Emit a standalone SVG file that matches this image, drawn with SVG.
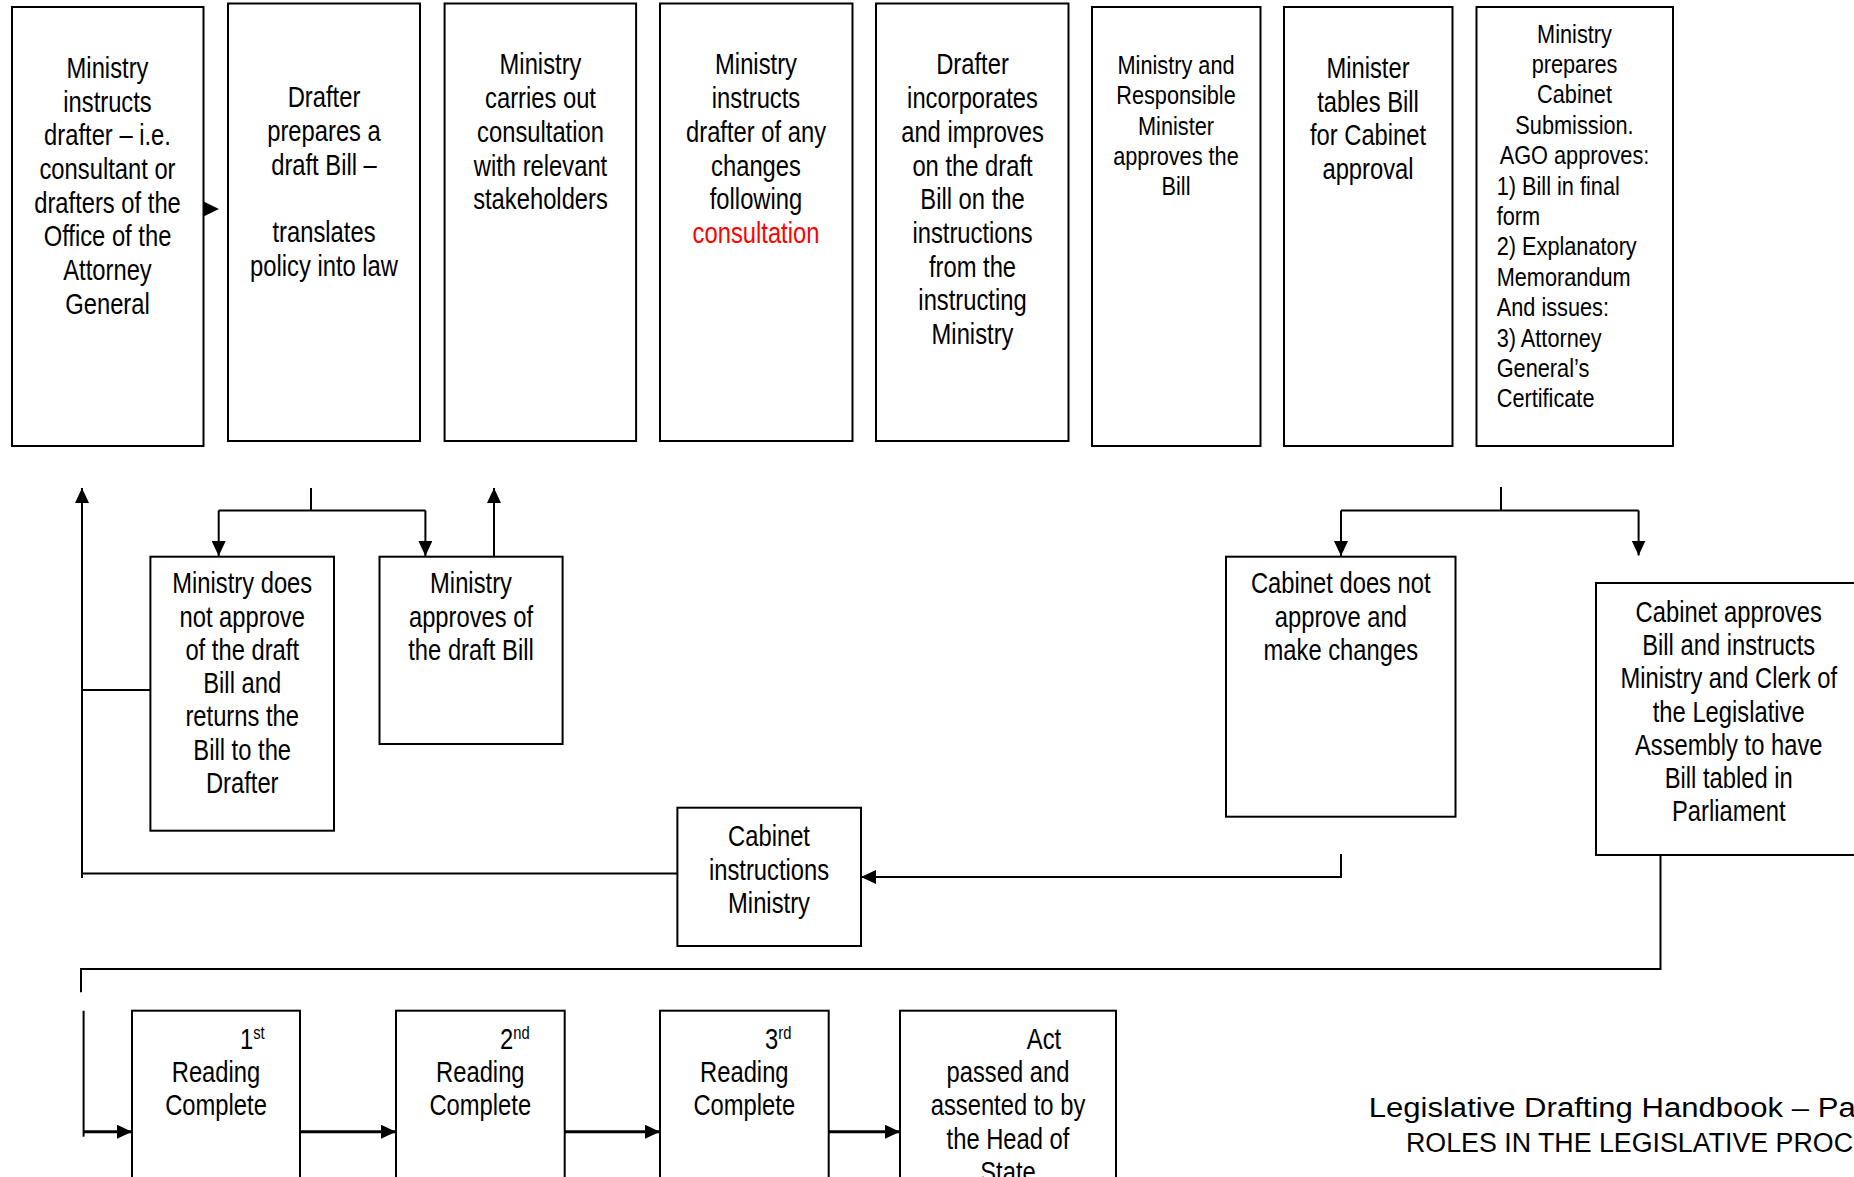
<svg xmlns="http://www.w3.org/2000/svg" width="1854" height="1177" viewBox="0 0 1854 1177">
<style>
  rect.box { fill: #fff; stroke: #000; stroke-width: 2; }
  text { font-family: "Liberation Sans", Arial, sans-serif; fill: #000; }
  .t { font-size: 29px; text-anchor: middle; }
  .s { font-size: 26.5px; text-anchor: middle; }
  .sl { font-size: 26.5px; text-anchor: start; }
  .tl { font-size: 29px; text-anchor: start; }
  .red { fill: #ff0000; }
  .sup { font-size: 18px; }
  .conn path { fill: none; stroke: #000; stroke-width: 2; }
  .foot { font-size: 27px; }
</style>
<defs>
  <marker id="ah" viewBox="0 0 15 14" refX="15" refY="7" markerWidth="15" markerHeight="14" markerUnits="userSpaceOnUse" orient="auto">
    <path d="M0,0 L15,7 L0,14 z" fill="#000"/>
  </marker>
</defs>
<rect width="1854" height="1177" fill="#fff"/>

<g id="connectors" class="conn">
  <polygon points="203.5,201.5 219,209 203.5,216.5" fill="#000"/>
  <path d="M311,488 V510.5"/>
  <path d="M218.7,510.5 H425.4"/>
  <path d="M218.7,510.5 V556" marker-end="url(#ah)"/>
  <path d="M425.4,510.5 V556" marker-end="url(#ah)"/>
  <path d="M494,556 V488" marker-end="url(#ah)"/>
  <path d="M82,878 V488" marker-end="url(#ah)"/>
  <path d="M82,690 H150.4"/>
  <path d="M82,873.5 H677.4"/>
  <path d="M1501,487 V510.5"/>
  <path d="M1341,510.5 H1638.6"/>
  <path d="M1341,510.5 V556" marker-end="url(#ah)"/>
  <path d="M1638.6,510.5 V555.5" marker-end="url(#ah)"/>
  <path d="M1341,854 V877 H861" marker-end="url(#ah)"/>
  <path d="M1660.5,855 V969 H81 V992.3"/>
  <path d="M83.6,1010.7 V1136.7"/>
  <path d="M83.6,1131.7 H132" marker-end="url(#ah)" style="stroke-width:3"/>
  <path d="M300,1131.7 H396" marker-end="url(#ah)" style="stroke-width:3"/>
  <path d="M564.7,1131.7 H660" marker-end="url(#ah)" style="stroke-width:3"/>
  <path d="M828.7,1131.7 H900" marker-end="url(#ah)" style="stroke-width:3"/>
</g>

<g id="n1">
  <rect class="box" x="12" y="7" width="191.5" height="439"/>
  <text class="t" transform="translate(107.5 0) scale(0.82 1)"><tspan x="0" y="78">Ministry</tspan><tspan x="0" y="111.7">instructs</tspan><tspan x="0" y="145.4">drafter – i.e.</tspan><tspan x="0" y="179.1">consultant or</tspan><tspan x="0" y="212.8">drafters of the</tspan><tspan x="0" y="246.5">Office of the</tspan><tspan x="0" y="280.2">Attorney</tspan><tspan x="0" y="313.9">General</tspan></text>
</g>

<g id="n2">
  <rect class="box" x="228" y="3.5" width="192" height="437.5"/>
  <text class="t" transform="translate(324 0) scale(0.82 1)"><tspan x="0" y="107.3">Drafter</tspan><tspan x="0" y="141">prepares a</tspan><tspan x="0" y="174.7">draft Bill –</tspan><tspan x="0" y="242.1">translates</tspan><tspan x="0" y="275.8">policy into law</tspan></text>
</g>

<g id="n3">
  <rect class="box" x="444.6" y="3.5" width="191.5" height="437.5"/>
  <text class="t" transform="translate(540.5 0) scale(0.82 1)"><tspan x="0" y="74.5">Ministry</tspan><tspan x="0" y="108.2">carries out</tspan><tspan x="0" y="141.9">consultation</tspan><tspan x="0" y="175.6">with relevant</tspan><tspan x="0" y="209.3">stakeholders</tspan></text>
</g>

<g id="n4">
  <rect class="box" x="660" y="3.5" width="192.5" height="437.5"/>
  <text class="t" transform="translate(756 0) scale(0.82 1)"><tspan x="0" y="74.5">Ministry</tspan><tspan x="0" y="108.2">instructs</tspan><tspan x="0" y="141.9">drafter of any</tspan><tspan x="0" y="175.6">changes</tspan><tspan x="0" y="209.3">following</tspan><tspan x="0" y="243" class="red">consultation</tspan></text>
</g>

<g id="n5">
  <rect class="box" x="876" y="3.5" width="192.5" height="437.5"/>
  <text class="t" transform="translate(972.5 0) scale(0.82 1)"><tspan x="0" y="74.5">Drafter</tspan><tspan x="0" y="108.2">incorporates</tspan><tspan x="0" y="141.9">and improves</tspan><tspan x="0" y="175.6">on the draft</tspan><tspan x="0" y="209.3">Bill on the</tspan><tspan x="0" y="243">instructions</tspan><tspan x="0" y="276.7">from the</tspan><tspan x="0" y="310.4">instructing</tspan><tspan x="0" y="344.1">Ministry</tspan></text>
</g>

<g id="n6">
  <rect class="box" x="1092" y="7" width="168.5" height="439"/>
  <text class="s" transform="translate(1176 0) scale(0.82 1)"><tspan x="0" y="74">Ministry and</tspan><tspan x="0" y="104.3">Responsible</tspan><tspan x="0" y="134.6">Minister</tspan><tspan x="0" y="164.9">approves the</tspan><tspan x="0" y="195.2">Bill</tspan></text>
</g>

<g id="n7">
  <rect class="box" x="1284" y="7" width="168.5" height="439"/>
  <text class="t" transform="translate(1368 0) scale(0.82 1)"><tspan x="0" y="78">Minister</tspan><tspan x="0" y="111.7">tables Bill</tspan><tspan x="0" y="145.4">for Cabinet</tspan><tspan x="0" y="179.1">approval</tspan></text>
</g>

<g id="n8">
  <rect class="box" x="1476.5" y="7" width="196.5" height="439"/>
  <text class="s" transform="translate(1574.5 0) scale(0.82 1)"><tspan x="0" y="42.7">Ministry</tspan><tspan x="0" y="73.1">prepares</tspan><tspan x="0" y="103.5">Cabinet</tspan><tspan x="0" y="133.9">Submission.</tspan><tspan x="0" y="164.3">AGO approves:</tspan></text>
  <text class="sl" transform="translate(1496.7 0) scale(0.82 1)"><tspan x="0" y="194.7">1) Bill in final</tspan><tspan x="0" y="225.1">form</tspan><tspan x="0" y="255.5">2) Explanatory</tspan><tspan x="0" y="285.9">Memorandum</tspan><tspan x="0" y="316.3">And issues:</tspan><tspan x="0" y="346.7">3) Attorney</tspan><tspan x="0" y="377.1">General’s</tspan><tspan x="0" y="407.5">Certificate</tspan></text>
</g>

<g id="n9">
  <rect class="box" x="150.4" y="556.7" width="183.6" height="274"/>
  <text class="t" transform="translate(242.2 0) scale(0.82 1)"><tspan x="0" y="593.3">Ministry does</tspan><tspan x="0" y="626.6">not approve</tspan><tspan x="0" y="659.9">of the draft</tspan><tspan x="0" y="693.2">Bill and</tspan><tspan x="0" y="726.5">returns the</tspan><tspan x="0" y="759.8">Bill to the</tspan><tspan x="0" y="793.1">Drafter</tspan></text>
</g>

<g id="n10">
  <rect class="box" x="379.5" y="556.7" width="183.1" height="187.3"/>
  <text class="t" transform="translate(471 0) scale(0.82 1)"><tspan x="0" y="593.3">Ministry</tspan><tspan x="0" y="626.6">approves of</tspan><tspan x="0" y="659.9">the draft Bill</tspan></text>
</g>

<g id="n11">
  <rect class="box" x="677.4" y="807.7" width="183.6" height="138.3"/>
  <text class="t" transform="translate(769 0) scale(0.82 1)"><tspan x="0" y="846.5">Cabinet</tspan><tspan x="0" y="879.8">instructions</tspan><tspan x="0" y="913.1">Ministry</tspan></text>
</g>

<g id="n12">
  <rect class="box" x="1226" y="556.7" width="229.5" height="260"/>
  <text class="t" transform="translate(1340.8 0) scale(0.82 1)"><tspan x="0" y="593.3">Cabinet does not</tspan><tspan x="0" y="626.6">approve and</tspan><tspan x="0" y="659.9">make changes</tspan></text>
</g>

<g id="n13">
  <rect class="box" x="1596" y="583" width="265" height="272"/>
  <text class="t" transform="translate(1728.7 0) scale(0.82 1)"><tspan x="0" y="621.7">Cabinet approves</tspan><tspan x="0" y="655">Bill and instructs</tspan><tspan x="0" y="688.3">Ministry and Clerk of</tspan><tspan x="0" y="721.6">the Legislative</tspan><tspan x="0" y="754.9">Assembly to have</tspan><tspan x="0" y="788.2">Bill tabled in</tspan><tspan x="0" y="821.5">Parliament</tspan></text>
</g>

<g id="n14">
  <rect class="box" x="132" y="1010.7" width="168" height="220"/>
  <text class="tl" transform="translate(240 0) scale(0.82 1)"><tspan x="0" y="1049">1</tspan><tspan class="sup" dy="-10">st</tspan></text>
  <text class="t" transform="translate(216 0) scale(0.82 1)"><tspan x="0" y="1082">Reading</tspan><tspan x="0" y="1115.5">Complete</tspan></text>
</g>

<g id="n15">
  <rect class="box" x="396" y="1010.7" width="168.7" height="220"/>
  <text class="tl" transform="translate(500 0) scale(0.82 1)"><tspan x="0" y="1049">2</tspan><tspan class="sup" dy="-10">nd</tspan></text>
  <text class="t" transform="translate(480.3 0) scale(0.82 1)"><tspan x="0" y="1082">Reading</tspan><tspan x="0" y="1115.5">Complete</tspan></text>
</g>

<g id="n16">
  <rect class="box" x="660" y="1010.7" width="168.7" height="220"/>
  <text class="tl" transform="translate(765 0) scale(0.82 1)"><tspan x="0" y="1049">3</tspan><tspan class="sup" dy="-10">rd</tspan></text>
  <text class="t" transform="translate(744.3 0) scale(0.82 1)"><tspan x="0" y="1082">Reading</tspan><tspan x="0" y="1115.5">Complete</tspan></text>
</g>

<g id="n17">
  <rect class="box" x="900" y="1010.7" width="216" height="220"/>
  <text class="t" transform="translate(1044 0) scale(0.82 1)"><tspan x="0" y="1049">Act</tspan></text>
  <text class="t" transform="translate(1008 0) scale(0.82 1)"><tspan x="0" y="1082">passed and</tspan><tspan x="0" y="1115.5">assented to by</tspan><tspan x="0" y="1149">the Head of</tspan><tspan x="0" y="1182.5">State</tspan></text>
</g>

<g id="footer">
  <text class="foot" x="1368.7" y="1116.7" textLength="487" lengthAdjust="spacingAndGlyphs">Legislative Drafting Handbook – Pa</text>
  <text class="foot" x="1406" y="1152.3" textLength="447" lengthAdjust="spacingAndGlyphs">ROLES IN THE LEGISLATIVE PROC</text>
</g>
</svg>
